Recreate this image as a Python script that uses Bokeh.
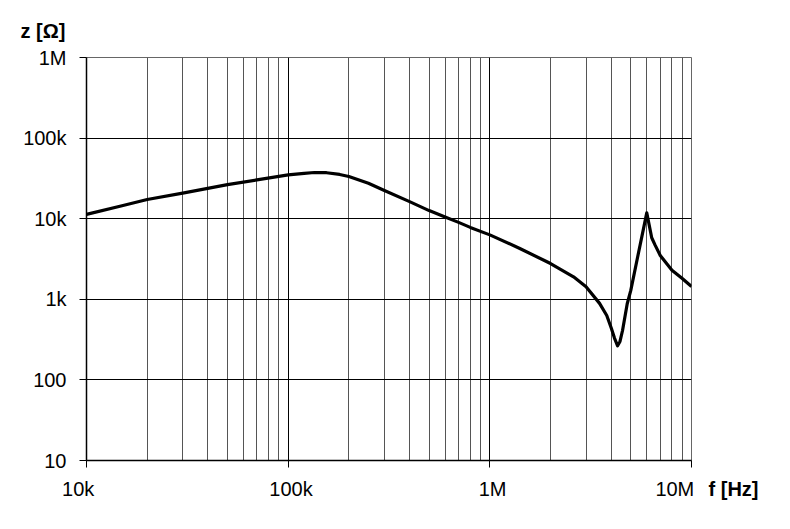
from bokeh.plotting import figure
from bokeh.models import FixedTicker, Title
from bokeh.embed import file_html
from bokeh.resources import INLINE

# ---- data ----
freq_hz = [1.0e4, 1.5e4, 2.0e4, 3.0e4, 5.0e4, 7.0e4, 1.0e5, 1.2e5, 1.35e5, 1.55e5,
           1.8e5, 2.0e5, 2.5e5, 3.0e5, 4.0e5, 5.0e5, 6.0e5, 7.0e5, 8.0e5, 1.0e6,
           1.4e6, 2.0e6, 2.6e6, 3.0e6, 3.5e6, 3.8e6, 4.0e6, 4.15e6, 4.3e6, 4.42e6,
           4.55e6, 4.8e6, 5.0e6, 5.4e6, 6.0e6, 6.35e6, 6.6e6, 7.0e6, 8.0e6, 9.0e6,
           1.0e7]
impedance_ohm = [11.3e3, 14.5e3, 17.3e3, 20.8e3, 26.5e3, 30.3e3, 35.0e3, 36.6e3, 37.4e3, 37.2e3,
                 35.4e3, 33.4e3, 27.5e3, 22.4e3, 16.3e3, 12.6e3, 10.5e3, 9.0e3, 7.8e3, 6.3e3,
                 4.3e3, 2.78e3, 1.9e3, 1.43e3, 890, 630, 440, 330, 265, 300,
                 410, 880, 1.29e3, 3.3e3, 11.8e3, 5.8e3, 4.7e3, 3.5e3, 2.3e3, 1.81e3,
                 1.44e3]

x_major = [1e4, 1e5, 1e6, 1e7]
x_labels = ["10k\u00a0\u00a0\u00a0", "\u00a0100k", "\u00a01M", "10M\u00a0\u00a0\u00a0\u00a0\u00a0\u00a0"]
x_minor = [m * d for d in [1e4, 1e5, 1e6] for m in range(2, 10)]
y_major = [1e1, 1e2, 1e3, 1e4, 1e5, 1e6]
y_labels = ["10", "100", "1k", "10k", "100k", "1M"]

FONT = "Liberation Sans"

p = figure(width=782, height=521, x_axis_type="log", y_axis_type="log",
           x_range=(1e4, 1e7), y_range=(10, 1e6),
           output_backend="svg", toolbar_location=None,
           min_border_left=86, min_border_right=91, min_border_top=57, min_border_bottom=61)
p.background_fill_color = "white"
p.border_fill_color = "white"
p.outline_line_color = "#666666"
p.outline_line_width = 1

p.title.text = "z [Ω]"
p.title.align = "left"
p.title.offset = -66
p.title.standoff = 32
p.title.text_font = FONT
p.title.text_font_size = "20px"
p.title.text_font_style = "bold"
p.title.text_color = "black"

p.xaxis.ticker = FixedTicker(ticks=x_major, minor_ticks=x_minor)
p.yaxis.ticker = FixedTicker(ticks=y_major, minor_ticks=[])
p.xaxis.major_label_overrides = {k: v for k, v in zip(x_major, x_labels)}
p.yaxis.major_label_overrides = {k: v for k, v in zip(y_major, y_labels)}

for ax in (p.xaxis, p.yaxis):
    ax.axis_line_color = "black"
    ax.axis_line_width = 1.5
    ax.major_tick_line_color = "black"
    ax.major_tick_in = 0
    ax.major_tick_out = 7
    ax.minor_tick_in = 0
    ax.minor_tick_out = 0
    ax.major_label_text_font = FONT
    ax.major_label_text_font_size = "20px"
    ax.major_label_text_color = "black"
p.xaxis.major_label_standoff = 10
p.yaxis.major_label_standoff = 13

p.xgrid.grid_line_color = "black"
p.xgrid.grid_line_width = 1
p.xgrid.minor_grid_line_color = "#555555"
p.xgrid.minor_grid_line_width = 1
p.ygrid.grid_line_color = "black"
p.ygrid.grid_line_width = 1

p.line(freq_hz, impedance_ohm, line_color="black", line_width=3.2, line_join="round")

f_title = Title(text="f [Hz]", align="right", offset=-67, standoff=-49,
                vertical_align="top",
                text_font=FONT, text_font_size="20px", text_font_style="bold",
                text_color="black")
p.add_layout(f_title, "below")

open("out.html", "w").write(file_html(p, INLINE))
